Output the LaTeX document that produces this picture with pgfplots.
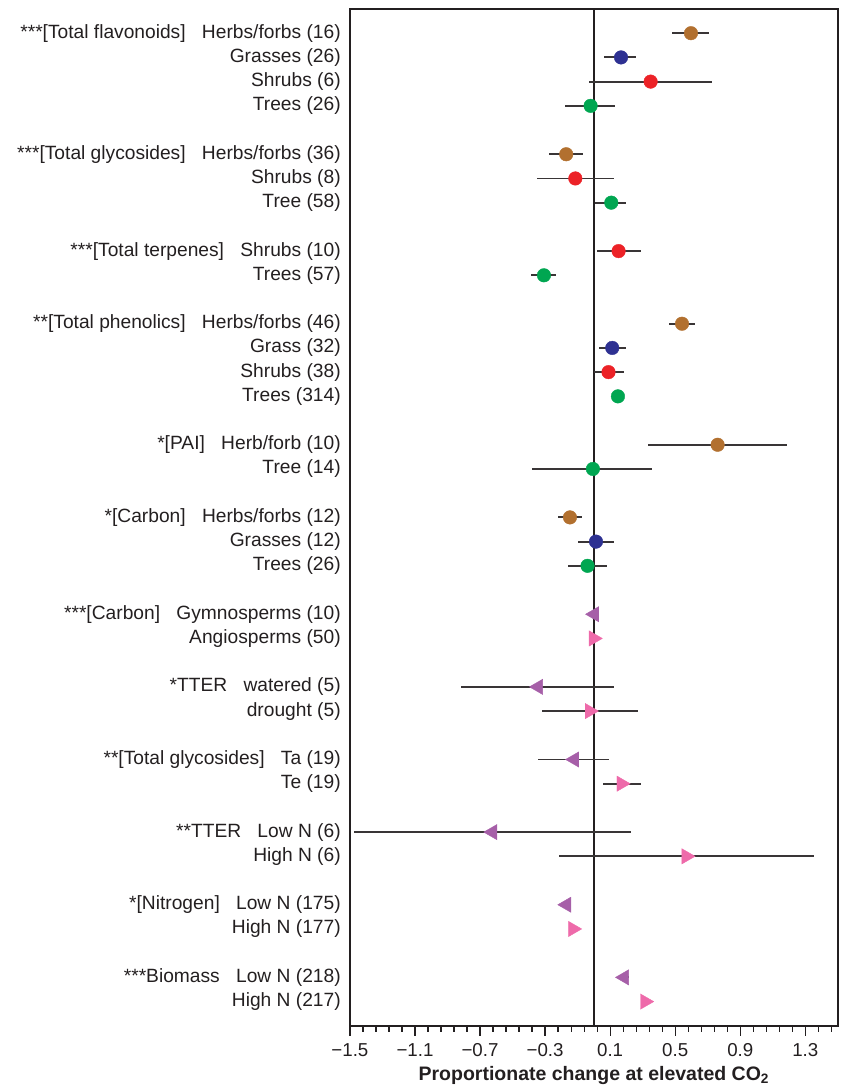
\documentclass[border=0pt]{standalone}
\usepackage{pgfplots}
\pgfplotsset{compat=1.18}
\usepackage{pgfplotstable}
\usepackage{fontspec}
\setmainfont{Liberation Sans}

\definecolor{herbc}{HTML}{B2702F}
\definecolor{grassc}{HTML}{2E3192}
\definecolor{shrubc}{HTML}{EC2227}
\definecolor{treec}{HTML}{00A651}
\definecolor{lowc}{HTML}{A65FA8}
\definecolor{highc}{HTML}{EE6AAA}
\definecolor{ink}{HTML}{231F20}

% row index (top = 0), effect size, lower and upper CI half-widths
\pgfplotstableread{
y x em ep
0 0.597 0.117 0.113
5 -0.170 0.109 0.105
12 0.542 0.083 0.077
17 0.761 0.431 0.426
20 -0.147 0.076 0.074
}\herbs
\pgfplotstableread{
y x em ep
1 0.167 0.103 0.092
13 0.113 0.084 0.084
21 0.013 0.111 0.108
}\grasses
\pgfplotstableread{
y x em ep
2 0.349 0.377 0.375
6 -0.114 0.238 0.235
9 0.152 0.135 0.138
14 0.090 0.087 0.093
}\shrubs
\pgfplotstableread{
y x em ep
3 -0.020 0.156 0.152
7 0.107 0.098 0.090
10 -0.307 0.078 0.076
15 0.148 0.020 0.020
18 -0.006 0.375 0.363
22 -0.039 0.123 0.119
}\trees
\pgfplotstableread{
y x em ep
24 0.003 0.010 0.010
27 -0.342 0.472 0.467
30 -0.120 0.222 0.215
33 -0.623 0.852 0.853
36 -0.168 0.020 0.020
39 0.187 0.030 0.030
}\lowgrp
\pgfplotstableread{
y x em ep
25 -0.002 0.010 0.010
28 -0.026 0.296 0.297
31 0.169 0.115 0.118
34 0.568 0.785 0.787
37 -0.129 0.020 0.020
40 0.314 0.020 0.020
}\highgrp

\newcommand{\gap}{\hspace{0.85em}}

\begin{document}
\begin{tikzpicture}
\begin{axis}[
  scale only axis,
  width=488pt, height=1017pt,
  xmin=-1.5, xmax=1.5,
  ymin=-1, ymax=41, y dir=reverse,
  axis line style={line width=1.5pt, ink},
  xtick={-1.5,-1.1,-0.7,-0.3,0.1,0.5,0.9,1.3},
  xticklabels={−1.5,−1.1,−0.7,−0.3,0.1,0.5,0.9,1.3},
  minor xtick={-1.42,-1.34,-1.26,-1.18,-1.02,-0.94,-0.86,-0.78,-0.62,-0.54,-0.46,-0.38,-0.22,-0.14,-0.06,0.02,0.18,0.26,0.34,0.42,0.58,0.66,0.74,0.82,0.98,1.06,1.14,1.22,1.38,1.46},
  xtick pos=bottom,
  tick align=outside,
  major tick length=10pt, minor tick length=6pt,
  tick style={line width=1.2pt, ink},
  ytick={0,...,40},
  ytick style={draw=none},
  yticklabels={
    {***[Total flavonoids]\gap Herbs/forbs (16)},{Grasses (26)},{Shrubs (6)},{Trees (26)},{},
    {***[Total glycosides]\gap Herbs/forbs (36)},{Shrubs (8)},{Tree (58)},{},
    {***[Total terpenes]\gap Shrubs (10)},{Trees (57)},{},
    {**[Total phenolics]\gap Herbs/forbs (46)},{Grass (32)},{Shrubs (38)},{Trees (314)},{},
    {*[PAI]\gap Herb/forb (10)},{Tree (14)},{},
    {*[Carbon]\gap Herbs/forbs (12)},{Grasses (12)},{Trees (26)},{},
    {***[Carbon]\gap Gymnosperms (10)},{Angiosperms (50)},{},
    {*TTER\gap watered (5)},{drought (5)},{},
    {**[Total glycosides]\gap Ta (19)},{Te (19)},{},
    {**TTER\gap Low N (6)},{High N (6)},{},
    {*[Nitrogen]\gap Low N (175)},{High N (177)},{},
    {***Biomass\gap Low N (218)},{High N (217)}
  },
  yticklabel style={font=\fontsize{19.2}{22}\selectfont, text=ink, anchor=east, inner sep=0pt, xshift=1pt},
  xticklabel style={font=\fontsize{18.7}{22}\selectfont, text=ink, yshift=-4pt},
  xlabel={\bfseries Proportionate change at elevated CO\textsubscript{2}},
  xlabel style={font=\fontsize{19.5}{23}\selectfont, text=ink, yshift=-3pt},
  clip=false,
  error bars/x dir=both,
  error bars/x explicit,
  error bars/error mark=none,
  error bars/error bar style={line width=1.9pt, ink!90},
]
\addplot[ink, line width=1.6pt, forget plot] coordinates {(0,-1) (0,41)};

\addplot[only marks, mark=*, mark size=6.8pt, herbc, mark options={fill=herbc, draw=herbc}]
  table[x=x, y=y, x error minus=em, x error plus=ep]{\herbs};
\addplot[only marks, mark=*, mark size=6.8pt, grassc, mark options={fill=grassc, draw=grassc}]
  table[x=x, y=y, x error minus=em, x error plus=ep]{\grasses};
\addplot[only marks, mark=*, mark size=6.8pt, shrubc, mark options={fill=shrubc, draw=shrubc}]
  table[x=x, y=y, x error minus=em, x error plus=ep]{\shrubs};
\addplot[only marks, mark=*, mark size=6.8pt, treec, mark options={fill=treec, draw=treec}]
  table[x=x, y=y, x error minus=em, x error plus=ep]{\trees};
\addplot[only marks, mark=triangle*, mark size=8.8pt, lowc, mark options={fill=lowc, draw=lowc, rotate=90}]
  table[x=x, y=y, x error minus=em, x error plus=ep]{\lowgrp};
\addplot[only marks, mark=triangle*, mark size=8.8pt, highc, mark options={fill=highc, draw=highc, rotate=-90}]
  table[x=x, y=y, x error minus=em, x error plus=ep]{\highgrp};
\end{axis}
\path ([xshift=-350pt, yshift=9pt]current axis.north west) ([xshift=5pt, yshift=-62pt]current axis.south east);
\end{tikzpicture}
\end{document}
